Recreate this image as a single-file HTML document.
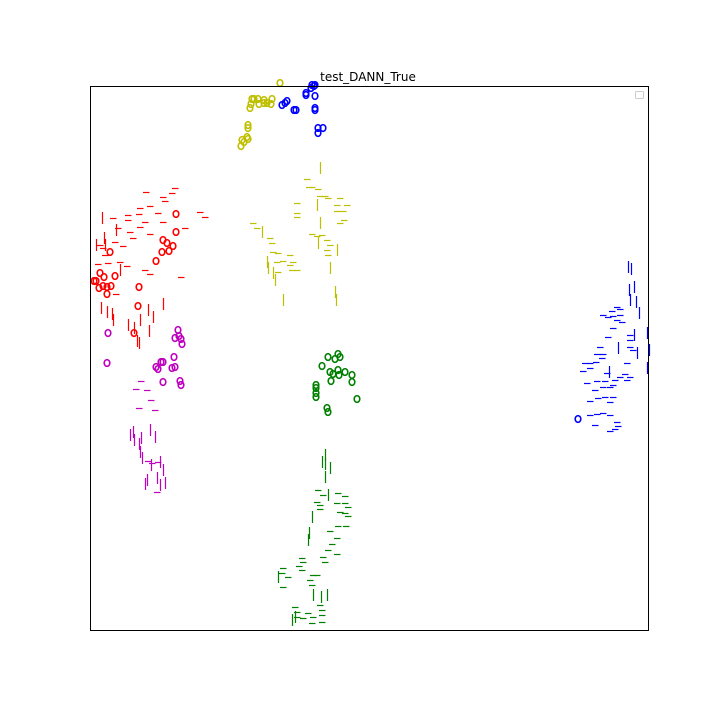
<!DOCTYPE html>
<html><head><meta charset="utf-8"><style>
html,body{margin:0;padding:0;background:#fff;}
svg{display:block;}
</style></head><body>
<svg id="chart" width="720" height="720" viewBox="0 0 720 720">
<rect x="0" y="0" width="720" height="720" fill="#fff"/>
<text x="368" y="81" text-anchor="middle" font-family="DejaVu Sans, Liberation Sans, sans-serif" font-size="12" fill="#000">test_DANN_True</text>
<g id="marks"></g>
<rect x="90.5" y="86.5" width="558" height="544" fill="none" stroke="#000" stroke-width="1"/>
<rect x="635.5" y="91.5" width="8" height="7" rx="1" fill="#fff" stroke="#ccc" stroke-width="1"/>
</svg>
<script>
// embedding coordinates (x: 90..648, y: 86..630 with y increasing downward)
const xDomain = [90, 648];
const yDomain = [86, 630];
const redCircles = [[176,214],[176,232],[163,240],[167,243],[173,246],[162,252],[169,251],[156,261],[110,252],[100,273],[104,277],[115,276],[94,281],[96,281],[99,288],[103,286],[107,287],[111,286],[107,294],[139,287],[138,306],[134,333]];
const redDashes = [[146,192],[175,188],[172,193],[163,197],[165,201],[200,212],[205,217],[140,208],[150,206],[139,214],[158,213],[128,215],[113,218],[128,220],[145,222],[163,222],[118,228],[130,232],[140,227],[185,228],[150,234],[133,238],[115,242],[100,245],[123,246],[105,255],[120,262],[145,270],[150,274],[181,277],[108,263],[98,264],[116,294],[127,266],[103,248]];
const redBars = [[102,218],[104,238],[116,230],[96,245],[105,245],[120,270],[101,308],[107,312],[112,314],[148,310],[140,320],[134,328],[163,304],[113,320],[128,325],[137,341],[139,343],[149,331],[153,317]];
const magentaCircles = [[108,333],[107,363],[178,330],[179,336],[181,339],[182,344],[175,338],[174,357],[163,362],[161,362],[158,369],[156,367],[172,368],[175,367],[163,382],[180,381],[181,385]];
const magentaDashes = [[141,381],[136,389],[147,390],[151,400],[139,408],[155,410],[148,461],[152,463],[158,462],[157,492]];
const magentaBars = [[130,435],[133,432],[134,440],[139,444],[141,438],[150,430],[155,437],[140,452],[142,458],[151,465],[160,462],[163,470],[157,478],[160,485],[165,483],[145,484],[147,480]];
const yellowCircles = [[280,83],[252,99],[254,99],[258,99],[251,104],[259,104],[264,100],[264,103],[272,99],[271,104],[267,103],[250,108],[248,125],[248,128],[247,137],[242,140],[248,139],[241,146],[244,142]];
const yellowDashes = [[307,179],[309,187],[312,187],[318,189],[320,196],[325,196],[328,198],[340,198],[337,205],[347,205],[297,203],[297,213],[297,217],[337,211],[343,211],[344,220],[340,223],[253,223],[257,228],[270,238],[272,243],[312,234],[317,236],[322,235],[327,240],[330,245],[327,250],[328,255],[273,252],[278,253],[290,255],[283,261],[277,262],[293,262],[292,270],[297,270],[278,272],[290,265]];
const yellowBars = [[320,168],[317,205],[320,223],[318,243],[262,232],[267,262],[268,268],[273,273],[275,280],[330,268],[337,250],[283,300],[335,292],[336,300]];
const blueCircles = [[312,85],[311,88],[314,86],[315,85],[306,93],[306,95],[315,96],[287,101],[282,105],[285,103],[296,110],[294,110],[315,108],[315,110],[318,128],[323,128],[318,133],[578,419]];
const blueDashes = [[617,307],[620,309],[612,311],[603,315],[608,317],[613,316],[620,315],[617,320],[622,322],[613,328],[608,337],[630,335],[630,340],[630,347],[633,350],[600,347],[597,354],[603,354],[602,358],[585,363],[590,363],[596,362],[583,371],[590,368],[627,363],[607,373],[625,374],[630,377],[627,380],[587,383],[597,381],[605,381],[615,380],[620,377],[603,387],[610,387],[613,385],[595,390],[598,398],[605,397],[613,397],[610,402],[590,401],[590,415],[597,414],[603,413],[610,415],[595,425],[617,422],[618,426],[610,431],[615,429]];
const blueBars = [[628,267],[631,269],[629,290],[634,287],[630,300],[636,302],[639,313],[634,335],[637,353],[618,348],[609,372],[647,333],[649,350],[647,368]];
const greenCircles = [[328,357],[335,359],[338,354],[340,357],[322,366],[330,372],[333,374],[338,370],[339,375],[345,372],[352,375],[352,382],[331,381],[316,385],[316,388],[316,393],[316,397],[357,399],[327,408],[328,412]];
const greenDashes = [[318,490],[323,495],[317,502],[320,505],[320,509],[338,493],[345,496],[337,503],[345,503],[348,507],[340,512],[345,513],[348,516],[330,531],[338,526],[346,526],[337,538],[332,544],[328,550],[337,554],[323,557],[325,562],[302,558],[303,562],[299,566],[302,570],[283,568],[282,573],[288,577],[283,587],[313,575],[317,575],[310,580],[312,585],[295,607],[297,612],[320,605],[322,610],[297,617],[303,618],[308,613],[313,617],[312,623],[322,615],[322,622]];
const greenBars = [[325,455],[322,462],[325,464],[330,468],[325,477],[328,495],[312,517],[309,533],[308,540],[278,577],[313,595],[321,597],[327,595],[292,620],[295,617]];

const plot = {left: 90, top: 86, width: 558, height: 544};
function sx(v){ return plot.left + (v - xDomain[0]) / (xDomain[1] - xDomain[0]) * plot.width; }
function sy(v){ return plot.top + (v - yDomain[0]) / (yDomain[1] - yDomain[0]) * plot.height; }

const NS = 'http://www.w3.org/2000/svg';
const g = document.getElementById('marks');
function addCircles(arr, color, cls){
  arr.forEach(function(p){
    const el = document.createElementNS(NS, 'ellipse');
    el.setAttribute('cx', sx(p[0])); el.setAttribute('cy', sy(p[1]));
    el.setAttribute('rx', 2.8); el.setAttribute('ry', 3.3);
    el.setAttribute('fill', 'none'); el.setAttribute('stroke', color); el.setAttribute('stroke-width', 1.6);
    
    
    g.appendChild(el);
  });
}
function addDashes(arr, color, cls){
  arr.forEach(function(p){
    const el = document.createElementNS(NS, 'line');
    const x = sx(p[0]), y = Math.round(sy(p[1])) + 0.5;
    el.setAttribute('x1', x - 3); el.setAttribute('x2', x + 3.5);
    el.setAttribute('y1', y); el.setAttribute('y2', y);
    el.setAttribute('stroke', color); el.setAttribute('stroke-width', 1.2);
    
    
    g.appendChild(el);
  });
}
function addBars(arr, color, cls){
  arr.forEach(function(p){
    const el = document.createElementNS(NS, 'line');
    const x = Math.round(sx(p[0])) + 0.5, y = sy(p[1]);
    el.setAttribute('x1', x); el.setAttribute('x2', x);
    el.setAttribute('y1', y - 6); el.setAttribute('y2', y + 6);
    el.setAttribute('stroke', color); el.setAttribute('stroke-width', 1.2);
    
    
    g.appendChild(el);
  });
}
addDashes(redDashes, '#ff0000', 'red'); addBars(redBars, '#ff0000', 'red'); addCircles(redCircles, '#ff0000', 'red');
addDashes(magentaDashes, '#bf00bf', 'magenta'); addBars(magentaBars, '#bf00bf', 'magenta'); addCircles(magentaCircles, '#bf00bf', 'magenta');
addDashes(yellowDashes, '#bfbf00', 'yellow'); addBars(yellowBars, '#bfbf00', 'yellow'); addCircles(yellowCircles, '#bfbf00', 'yellow');
addDashes(blueDashes, '#0000ff', 'blue'); addBars(blueBars, '#0000ff', 'blue'); addCircles(blueCircles, '#0000ff', 'blue');
addDashes(greenDashes, '#008000', 'green'); addBars(greenBars, '#008000', 'green'); addCircles(greenCircles, '#008000', 'green');
</script>
</body></html>
